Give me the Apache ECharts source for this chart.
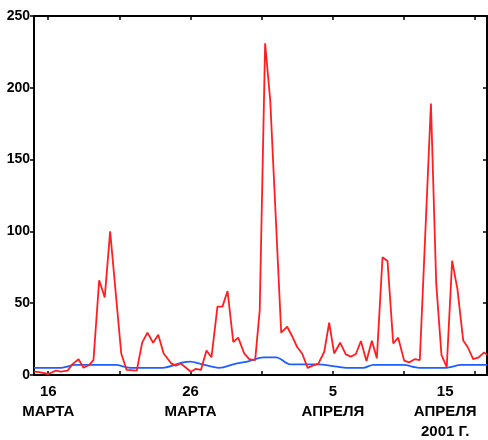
<!DOCTYPE html>
<html>
<head>
<meta charset="utf-8">
<script src="https://cdn.jsdelivr.net/npm/echarts@6/dist/echarts.min.js"></script>
<style>
  html, body { margin: 0; padding: 0; background: #fff; }
  #main { width: 488px; height: 440px; }
</style>
</head>
<body>
<div id="main"></div>
<script>
// days counted from 15 March 2001 (0 = 15 Mar)
var redDays = [0.01, 0.37, 1.00, 1.54, 1.89, 2.35, 2.70, 3.13, 3.48, 3.88, 4.18, 4.58, 4.97, 5.35,
  6.13, 6.51, 7.22, 7.60, 7.97, 8.37, 8.73, 9.11, 9.62, 9.97, 10.32, 11.02, 11.38, 11.73, 12.12,
  12.47, 12.89, 13.24, 13.60, 14.00, 14.35, 14.77, 15.12, 15.54, 15.86, 16.24, 16.60, 17.37, 17.79,
  18.14, 18.49, 18.84, 19.23, 19.58, 19.97, 20.39, 20.74, 21.09, 21.51, 21.91, 22.27, 22.62, 22.97,
  23.36, 23.74, 24.09, 24.49, 24.84, 25.24, 25.59, 26.01, 26.36, 26.75, 27.11, 27.89, 28.26, 28.63,
  29.00, 29.38, 29.75, 30.16, 30.47, 30.86, 31.24, 31.63, 31.84];
var redVals = [2.3, 2, 0.7, 3, 2.3, 3, 7.6, 11, 5, 7, 10.4, 66, 54, 100,
  15, 3.5, 3, 22.5, 29.5, 22.5, 28, 15, 8.3, 6.5, 8, 2.3, 4.3, 3.5, 17,
  12.3, 47.6, 47.6, 58.5, 23, 26, 15, 11, 10.4, 45, 231, 191, 29.5, 33.6,
  27, 19.5, 15, 5, 6.5, 7.8, 16, 36.4, 15, 22.5, 14.4, 12.8, 14.6, 23.7,
  9.7, 23.9, 11.6, 82, 79.4, 22, 26, 10, 8.8, 11, 10.4, 189, 64, 14,
  5.5, 79.6, 60, 24, 19.5, 11, 12.3, 15.8, 14];

var blueDays = [0, 1.91, 2.89, 5.71, 6.76, 9.01, 10.48, 10.97, 11.75, 13.01, 14.07, 15.12, 16.10,
  17.02, 18.00, 19.90, 21.30, 21.94, 23.13, 23.83, 25.94, 27.06, 28.96, 30.02, 31.84];
var blueVals = [5, 5, 7, 7, 5, 5, 8.8, 9.3, 7.6, 5, 7.6, 9.7, 12.3,
  12.3, 7.4, 7.4, 5.8, 5, 5, 7, 7, 5, 5, 7, 7];

var tickDays = [1, 6, 11, 16, 21, 26, 31];
var labelDays = [1, 11, 21, 31];
var labelTexts = ['16\nМАРТА', '26\nМАРТА', '5\nАПРЕЛЯ', '15\nАПРЕЛЯ\n2001 Г.'];
var yTicks = [0, 50, 100, 150, 200, 250];

function zip(xs, ys) {
  return xs.map(function (x, i) { return [x, ys[i]]; });
}

var FONT = '"Liberation Sans", Arial, sans-serif';
var axisLine = { show: true, onZero: false, lineStyle: { color: '#000', width: 2 } };
var tickStyle = { color: '#000', width: 1.5 };

var myChart = echarts.init(document.getElementById('main'));

var option = {
  backgroundColor: '#fff',
  animation: false,
  grid: { left: 34, right: 1, top: 16, bottom: 65, outerBoundsMode: 'none', containLabel: false },
  xAxis: [
    {
      type: 'value', position: 'bottom', min: 0, max: 31.83,
      axisLine: axisLine,
      splitLine: { show: false },
      axisTick: { show: true, inside: true, length: 4, lineStyle: tickStyle, customValues: tickDays },
      axisLabel: {
        show: true, margin: 7, customValues: labelDays,
        color: '#000', fontFamily: FONT, fontWeight: 'bold', fontSize: 15, lineHeight: 20,
        formatter: function (v) {
          var i = labelDays.indexOf(Math.round(v));
          if (i < 0) return '';
          // the last label is pushed left so it stays inside the picture
          if (i === labelDays.length - 1) {
            return labelTexts[i].split('\n').map(function (s) { return '{r|' + s + '}'; }).join('\n');
          }
          return labelTexts[i];
        },
        rich: {
          r: { fontFamily: FONT, fontWeight: 'bold', fontSize: 15, lineHeight: 20, color: '#000', padding: [0, 60, 0, 0] }
        }
      }
    },
    {
      type: 'value', position: 'top', min: 0, max: 31.83,
      axisLine: axisLine,
      splitLine: { show: false },
      axisTick: { show: true, inside: true, length: 4, lineStyle: tickStyle, customValues: tickDays },
      axisLabel: { show: false }
    }
  ],
  yAxis: [
    {
      type: 'value', position: 'left', min: 0, max: 250, interval: 50,
      axisLine: axisLine,
      splitLine: { show: false },
      axisTick: { show: true, inside: false, length: 4, lineStyle: tickStyle, customValues: yTicks },
      axisLabel: { margin: 4, color: '#000', fontFamily: FONT, fontWeight: 'bold', fontSize: 14 }
    },
    {
      type: 'value', position: 'right', min: 0, max: 250, interval: 50,
      axisLine: axisLine,
      splitLine: { show: false },
      axisTick: { show: true, inside: true, length: 4, lineStyle: tickStyle },
      axisLabel: { show: false }
    }
  ],
  series: [
    {
      name: 'red', type: 'line', xAxisIndex: 0, yAxisIndex: 0,
      data: zip(redDays, redVals),
      showSymbol: false, symbol: 'none',
      lineStyle: { color: '#ff1f1f', width: 1.8 },
      z: 3
    },
    {
      name: 'blue', type: 'line', xAxisIndex: 0, yAxisIndex: 0,
      data: zip(blueDays, blueVals),
      showSymbol: false, symbol: 'none', smooth: 0.3,
      lineStyle: { color: '#1f5fff', width: 1.8 },
      z: 2
    }
  ]
};

myChart.setOption(option);
</script>
</body>
</html>
